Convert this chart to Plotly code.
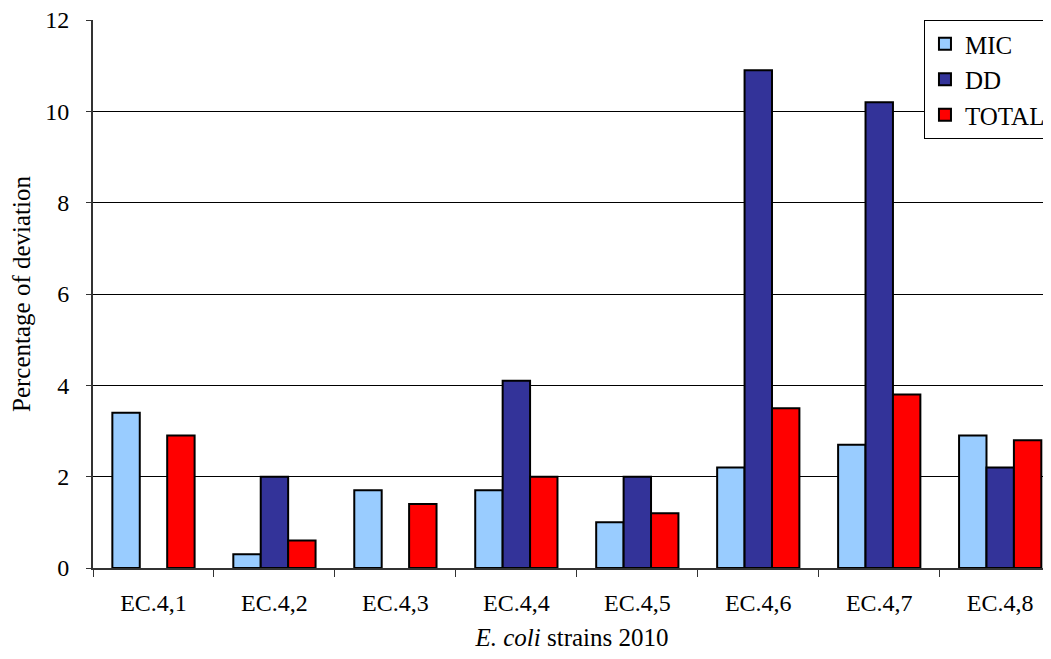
import plotly.graph_objects as go

categories = ["EC.4,1", "EC.4,2", "EC.4,3", "EC.4,4", "EC.4,5", "EC.4,6", "EC.4,7", "EC.4,8"]
mic = [3.4, 0.3, 1.7, 1.7, 1.0, 2.2, 2.7, 2.9]
dd = [None, 2.0, None, 4.1, 2.0, 10.9, 10.2, 2.2]
total = [2.9, 0.6, 1.4, 2.0, 1.2, 3.5, 3.8, 2.8]
y_ticks = [0, 2, 4, 6, 8, 10, 12]

FONT = "Liberation Serif"

fig = go.Figure()
for name, vals, col in [("MIC", mic, "#99ccff"), ("DD", dd, "#333399"), ("TOTAL", total, "#ff0000")]:
    fig.add_trace(go.Bar(x=categories, y=vals, name=name, marker=dict(color=col, line=dict(color="black", width=2))))

fig.update_layout(
    width=1043, height=651,
    margin=dict(l=85, r=0, t=12, b=91),
    paper_bgcolor="white", plot_bgcolor="white",
    font=dict(family=FONT, size=25, color="black"),
    barmode="group", bargap=0.32, bargroupgap=0,
    legend=dict(x=0.8674, y=1, xanchor="left", yanchor="top", bgcolor="white",
                bordercolor="black", borderwidth=1, font=dict(family=FONT, size=25, color="black")),
    xaxis=dict(range=[-0.5, 7.42], tickson="boundaries", ticks="outside", ticklen=7, tickcolor="#333",
               showline=True, linecolor="#333", linewidth=2, ticklabelstandoff=12,
               tickfont=dict(family=FONT, size=24),
               title=dict(text="<i>E. coli</i> strains 2010", standoff=14, font=dict(family=FONT, size=25))),
    yaxis=dict(range=[0, 12], tickvals=y_ticks, ticks="outside", ticklen=5, tickcolor="#333",
               showline=True, linecolor="#333", linewidth=2, showgrid=True, gridcolor="black", gridwidth=1,
               zeroline=False, ticklabelstandoff=12, ticklabeloverflow="allow", tickfont=dict(family=FONT, size=24),
               title=dict(text="Percentage of deviation", standoff=12, font=dict(family=FONT, size=25))),
)

fig.write_html("out.html")
